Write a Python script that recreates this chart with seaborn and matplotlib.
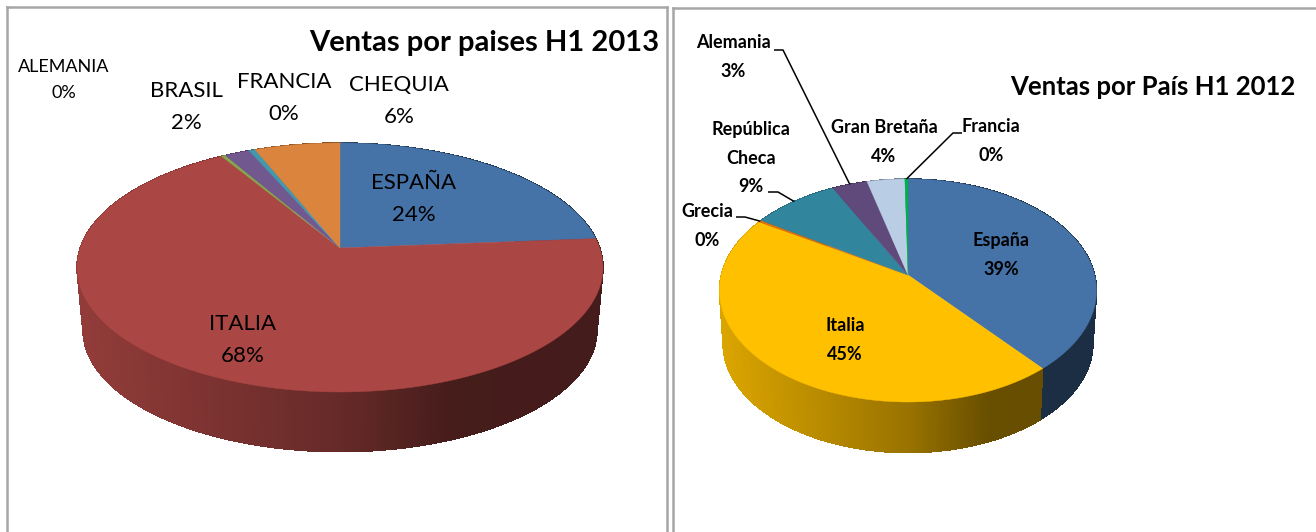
import numpy as np
import seaborn as sns
import matplotlib
matplotlib.use("Agg")
import matplotlib.pyplot as plt
from matplotlib.collections import PolyCollection

# 2013 chart
names_2013 = ['ESPAÑA', 'ITALIA', 'ALEMANIA', 'BRASIL', 'FRANCIA', 'CHEQUIA']
values_2013 = [23.75, 67.6, 0.3, 1.8, 0.45, 6.1]
colors_2013 = ['#4572A7', '#AA4643', '#89A54E', '#71588F', '#4198AF', '#DB843D']

# 2012 chart
names_2012 = ['España', 'Italia', 'Grecia', 'República\nCheca', 'Alemania', 'Gran Bretaña', 'Francia']
values_2012 = [38.85, 44.85, 0.3, 8.55, 3.45, 3.7, 0.3]
colors_2012 = ['#4572A7', '#FFC000', '#E46C0A', '#31859C', '#604A7B', '#B9CDE5', '#00B050']

title_2013 = 'Ventas por paises H1 2013'
title_2012 = 'Ventas por País H1 2012'

sns.set_theme(style='white')
plt.rcParams['font.family'] = ['Lato', 'DejaVu Sans']

W, H = 1316, 532
fig = plt.figure(figsize=(W / 100, H / 100), dpi=100, facecolor='white')


def panel(x0, x1, y0, sides):
    # axes in image pixels so the layout can be read straight off the picture
    ax = fig.add_axes([x0 / W, 0, (x1 - x0) / W, (H - y0) / H])
    ax.set_xlim(x0, x1)
    ax.set_ylim(H, y0)
    ax.set_xticks([])
    ax.set_yticks([])
    for name, sp in ax.spines.items():
        sp.set_visible(name in sides)
        sp.set_color('#a6a6a6')
        sp.set_linewidth(1.8)
    return ax


def rim(theta, geo):
    # perspective view of the pie circle, theta clockwise from the top
    cx, cy, up, down, half_w = geo[:5]
    k = -(down - up) / (down + up)
    b = up * (1 - k)
    rx = half_w * np.sqrt(1 - k ** 2)
    w = 1 - k * np.cos(theta)
    return cx + rx * np.sin(theta) / w, cy - b * np.cos(theta) / w


def shade(color, s):
    rgb = np.array(matplotlib.colors.to_rgb(color))
    return tuple(rgb * np.interp(s, [-1, 0, 0.42, 1], [0.86, 0.60, 0.41, 0.40]))


def draw_pie(ax, values, colors, geo):
    cx, cy, up, down, half_w, depth, shrink = geo
    edges = 2 * np.pi * np.concatenate([[0], np.cumsum(values)]) / np.sum(values)

    # side wall first, in thin strips to get the light gradient
    polys, faces = [], []
    for i, color in enumerate(colors):
        n = max(2, int((edges[i + 1] - edges[i]) * 180))
        t = np.linspace(edges[i], edges[i + 1], n + 1)
        x, y = rim(t, geo)
        xb = cx + (x - cx) * shrink
        yb = cy + (y - cy) * shrink + depth
        for j in range(n):
            polys.append([(x[j], y[j]), (x[j + 1], y[j + 1]), (xb[j + 1], yb[j + 1]), (xb[j], yb[j])])
            faces.append(shade(color, (x[j] - cx) / half_w))
    ax.add_collection(PolyCollection(polys, facecolors=faces, edgecolors=faces,
                                     linewidths=0.4, antialiaseds=False))

    # top face
    for i, color in enumerate(colors):
        t = np.linspace(edges[i], edges[i + 1], max(3, int((edges[i + 1] - edges[i]) * 180)))
        x, y = rim(t, geo)
        ax.fill(np.r_[cx, x], np.r_[cy, y], color=color, lw=0.3, zorder=3)
    return (edges[:-1] + edges[1:]) / 2


def leader(ax, points, mid, geo):
    x, y = rim(mid, geo)
    xs, ys = zip(*points)
    ax.plot(list(xs) + [x], list(ys) + [y], color='black', lw=1.1, zorder=4, solid_capstyle='butt')


ax1 = panel(7, 667, 7, ['left', 'top', 'right'])
geo_2013 = (340, 248, 105, 144, 263, 63, 0.977)
draw_pie(ax1, values_2013, colors_2013, geo_2013)

pos_2013 = [(414, 199), (243, 340), (64, 80), (186, 107), (284, 98), (399, 101)]
size_2013 = [16, 16, 13, 16, 16, 16]
space_2013 = [1.72, 1.72, 1.78, 1.72, 1.72, 1.72]
for name, v, (x, y), fs, sp in zip(names_2013, values_2013, pos_2013, size_2013, space_2013):
    ax1.text(x, y, f'{name}\n{round(v)}%', ha='center', va='center', fontsize=fs,
             linespacing=sp, color='black', zorder=5)
ax1.text(484, 43, title_2013, ha='center', va='center', fontsize=21, fontweight='bold', color='black')

ax2 = panel(673, 1318, 8, ['left', 'top'])
geo_2012 = (908, 275, 96, 127, 188.5, 53, 0.981)
mids = draw_pie(ax2, values_2012, colors_2012, geo_2012)

pos_2012 = [(1001, 255), (845, 340), (707, 226), (751, 158), (733, 57), (884, 142), (991, 141)]
for name, v, (x, y) in zip(names_2012, values_2012, pos_2012):
    ax2.text(x, y, f'{name}\n{round(v)}%', ha='center', va='center', fontsize=13,
             fontweight='bold', linespacing=1.85, color='black', zorder=5)
ax2.text(1153, 87, title_2012, ha='center', va='center', fontsize=18.5, fontweight='bold', color='black')

leader(ax2, [(736, 217), (745, 217)], mids[2], geo_2012)
leader(ax2, [(768, 192), (778, 192)], mids[3], geo_2012)
leader(ax2, [(774, 50), (783, 50)], mids[4], geo_2012)
leader(ax2, [(962, 133), (953, 133)], mids[6], geo_2012)

fig.savefig('out.png', dpi=100)
